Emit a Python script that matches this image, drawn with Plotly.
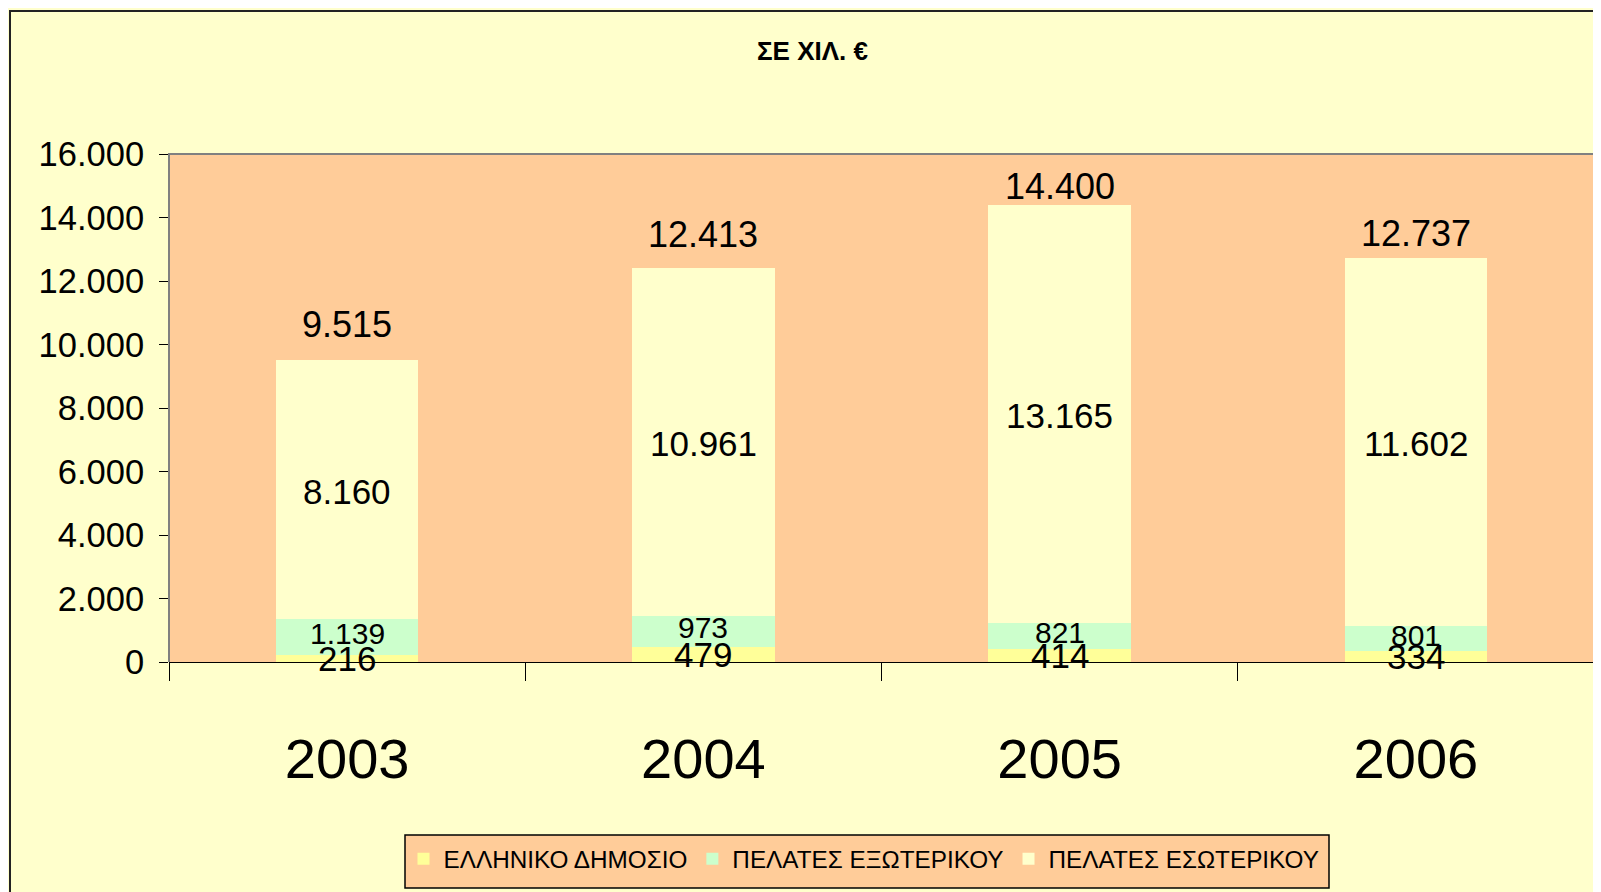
import plotly.graph_objects as go

years = ["2003", "2004", "2005", "2006"]
dimosio = [216, 479, 414, 334]          # ΕΛΛΗΝΙΚΟ ΔΗΜΟΣΙΟ
exoterikou = [1139, 973, 821, 801]      # ΠΕΛΑΤΕΣ ΕΞΩΤΕΡΙΚΟΥ
esoterikou = [8160, 10961, 13165, 11602]  # ΠΕΛΑΤΕΣ ΕΣΩΤΕΡΙΚΟΥ
names = ["ΕΛΛΗΝΙΚΟ ΔΗΜΟΣΙΟ", "ΠΕΛΑΤΕΣ ΕΞΩΤΕΡΙΚΟΥ", "ΠΕΛΑΤΕΣ ΕΣΩΤΕΡΙΚΟΥ"]
y_ticks = [0, 2000, 4000, 6000, 8000, 10000, 12000, 14000, 16000]

colors = ["#FFFF99", "#CCFFCC", "#FFFFCC"]
FONT = "Liberation Sans, Arial, sans-serif"

OFF = 8  # page body margin
W, H = 1601, 892
# desired page-pixel positions of the plot area
PL, PR, PT, PB = 169, 1594, 154, 662
L, T = PL - OFF, PT - OFF
R = W - (PR - OFF)
B = H - (PB - OFF)
pw, ph = PR - PL, PB - PT


def px_x(px):  # page x -> paper x
    return (px - PL) / pw


def px_y(py):  # page y -> paper y
    return (PB - py) / ph


def fmt(v):
    return f"{v:,}".replace(",", ".")


series = [dimosio, exoterikou, esoterikou]
label_sizes = [35, 30, 35]
label_shift = [0, 3.5, -2]
total_shift = [35, 33, 18, 24]
xs = list(range(len(years)))

fig = go.Figure()
for s, n, c in zip(series, names, colors):
    fig.add_trace(go.Bar(x=xs, y=s, name=n, marker=dict(color=c, line=dict(width=0)),
                         hoverinfo="skip"))

# segment labels at the middle of each segment
base = [0] * len(years)
for s, fs, sh in zip(series, label_sizes, label_shift):
    for i, b, v in zip(xs, base, s):
        fig.add_annotation(x=i, y=b + v / 2, text=fmt(v), showarrow=False,
                           yanchor="middle", yshift=sh,
                           font=dict(family=FONT, size=fs, color="black"))
    base = [b + v for b, v in zip(base, s)]

totals = base
for i, tot, sh in zip(xs, totals, total_shift):
    fig.add_annotation(x=i, y=tot, text=fmt(tot), showarrow=False, yanchor="middle",
                       yshift=sh, font=dict(family=FONT, size=36, color="black"))

# title
fig.add_annotation(xref="paper", yref="paper", x=px_x(812), y=px_y(51),
                   text="<b>ΣΕ ΧΙΛ. €</b>", showarrow=False, xanchor="center", yanchor="middle",
                   font=dict(family=FONT, size=26, color="black"))

# outer chart border
fig.add_shape(type="rect", xref="paper", yref="paper",
              x0=px_x(10), x1=px_x(1630), y0=px_y(920), y1=px_y(11),
              line=dict(color="#222222", width=2), layer="above")
# plot area border (left, top, right)
fig.add_shape(type="path", xref="paper", yref="paper", path="M 0,0 L 0,1 L 1,1 L 1,0",
              line=dict(color="#808080", width=2), layer="above")
# legend box
fig.add_shape(type="rect", xref="paper", yref="paper",
              x0=px_x(405), x1=px_x(1329), y0=px_y(888), y1=px_y(835),
              fillcolor="#FFCC99", line=dict(color="black", width=1.5), layer="below")

fig.update_layout(
    width=W, height=H,
    margin=dict(l=L, r=R, t=T, b=B, pad=0),
    paper_bgcolor="#FFFFCC", plot_bgcolor="#FFCC99",
    barmode="stack", bargap=0.6,
    separators=",.",
    font=dict(family=FONT, color="black"),
    showlegend=True,
    legend=dict(orientation="h", x=px_x(864), xanchor="center",
                y=px_y(859), yanchor="middle",
                bgcolor="rgba(0,0,0,0)", borderwidth=0,
                traceorder="normal", font=dict(family=FONT, size=24.3, color="black"),
                itemwidth=30),
    xaxis=dict(range=[-0.5, len(years) - 0.5], tickvals=xs, ticktext=years,
               showgrid=False, zeroline=False, showline=True, linecolor="black", linewidth=1,
               ticks="", tickfont=dict(family=FONT, size=56, color="black"),
               ticklabelstandoff=48, tickangle=0, fixedrange=True),
    xaxis2=dict(overlaying="x", range=[-0.5, len(years) - 0.5], tickvals=[-0.5, 0.5, 1.5, 2.5, 3.5],
                ticktext=["", "", "", "", ""], side="bottom", anchor="y",
                ticks="outside", ticklen=18, tickcolor="black", showgrid=False,
                zeroline=False, showline=False, fixedrange=True),
    yaxis=dict(range=[0, 16000], tickvals=y_ticks, tickformat=",d", showgrid=False,
               zeroline=False, showline=False, ticks="outside", ticklen=9, tickcolor="black",
               tickfont=dict(family=FONT, size=34.5, color="black"), ticklabelstandoff=8,
               fixedrange=True),
)
# dummy invisible trace to show the boundary ticks axis
fig.add_trace(go.Scatter(x=[None], y=[None], xaxis="x2", showlegend=False, hoverinfo="skip"))

fig.write_html("out.html")
